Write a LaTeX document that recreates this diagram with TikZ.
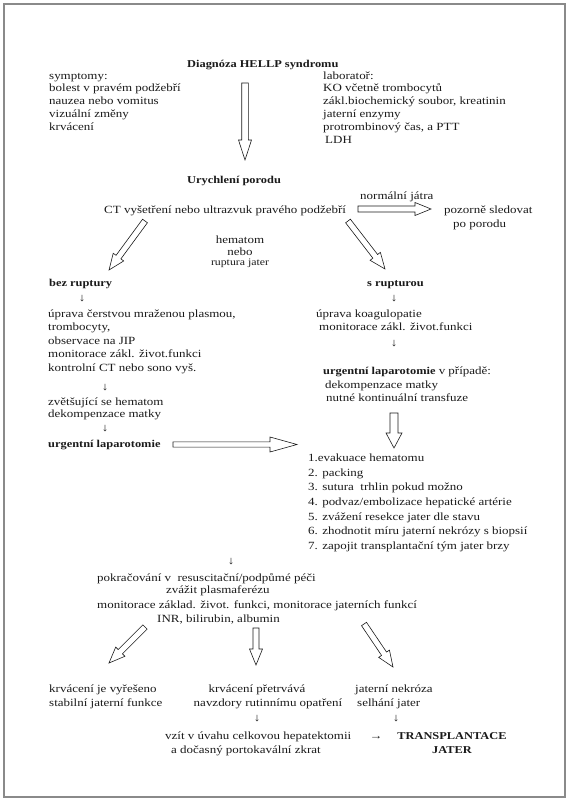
\documentclass[tikz,border=0pt]{standalone}
\usepackage{fontspec}
\setmainfont{Liberation Serif}[FakeStretch=1.18]
\usetikzlibrary{calc}
\definecolor{ink}{HTML}{1A1A1A}
\definecolor{framegray}{HTML}{8A8A8A}
\newcommand\blockarrow[5]{%
  \coordinate (hb) at ($(#2)!#5!(#1)$);
  \draw[blockarr] ($(#1)!#3!90:(#2)$) -- ($(hb)!#3!-90:(#1)$) -- ($(hb)!#4!-90:(#1)$) -- (#2)
     -- ($(hb)!#4!90:(#1)$) -- ($(hb)!#3!90:(#1)$) -- ($(#1)!#3!-90:(#2)$) -- cycle;
}
\begin{document}
\begin{tikzpicture}[x=1pt,y=-1pt,
  txt/.style={anchor=base west,inner sep=0pt,text=ink,font=\fontsize{11}{13}\selectfont},
  ctxt/.style={txt,anchor=base},
  btxt/.style={txt,font=\fontsize{10.5}{13}\selectfont\bfseries},
  cbtxt/.style={btxt,anchor=base},
  stxt/.style={ctxt,font=\fontsize{10}{12}\selectfont},
  blockarr/.style={draw=ink,line width=0.6pt,fill=white,line join=miter},
  frame/.style={draw=framegray,line width=1.2pt}]
\useasboundingbox (0,0) rectangle (569,800);
\draw[frame] (4,4) rectangle (565,797);

% top
\node[btxt] (diag) at (187,67) {Diagnóza HELLP syndromu};
\foreach \t [count=\i] in {symptomy:,bolest v pravém podžebří,nauzea nebo vomitus,vizuální změny,krvácení}
  \node[txt] (sym\i) at (49,66.2+12.8*\i) {\t};
\foreach \t [count=\i] in {laboratoř:,KO včetně trombocytů,{zákl.biochemický soubor, kreatinin},jaterní enzymy,{protrombinový čas, a PTT}}
  \node[txt] (lab\i) at (323,66.2+12.8*\i) {\t};
\node[txt] (lab6) at (325,143) {LDH};

\coordinate (a1t) at (245,83);
\coordinate (a1h) at (245,160);
\blockarrow{a1t}{a1h}{3.3pt}{6.5pt}{20pt}

\node[btxt] (uryc) at (187,183) {Urychlení porodu};
\node[txt] (norm) at (360,199) {normální játra};
\node[txt] (ct) at (104,213) {CT vyšetření nebo ultrazvuk pravého podžebří};
\node[txt] (poz1) at (444,213) {pozorně sledovat};
\node[txt] (poz2) at (453,227) {po porodu};
\coordinate (a2t) at (358,209);
\coordinate (a2h) at (431,209);
\blockarrow{a2t}{a2h}{3pt}{6.5pt}{16pt}

\node[ctxt] (hem1) at (240,243) {hematom};
\node[ctxt] (hem2) at (240,255) {nebo};
\node[stxt] (hem3) at (240,265) {ruptura jater};

\coordinate (a3t) at (145,221);
\coordinate (a3h) at (109,270);
\blockarrow{a3t}{a3h}{3pt}{6.5pt}{16pt}
\coordinate (a4t) at (348,221);
\coordinate (a4h) at (385,269);
\blockarrow{a4t}{a4h}{3pt}{6.5pt}{16pt}

\node[btxt] (bez) at (49,286) {bez ruptury};
\node[btxt] (srup) at (367,286) {s rupturou};
\node[ctxt] (d1) at (82,301) {↓};
\node[ctxt] (d2) at (394,301) {↓};

% left block
\foreach \t [count=\i] in {{úprava čerstvou mraženou plasmou,},{trombocyty,},observace na JIP,monitorace zákl. život.funkci,kontrolní CT nebo sono vyš.}
  \node[txt] (lb\i) at (48,303.4+13.6*\i) {\t};
\node[ctxt] (d3) at (105,390) {↓};
\node[txt] (lz1) at (48,405) {zvětšující se hematom};
\node[txt] (lz2) at (48,417) {dekompenzace matky};
\node[ctxt] (d4) at (105,431) {↓};
\node[btxt] (ulap) at (48,447) {urgentní laparotomie};

% right block
\node[txt] (rb1) at (316,317) {úprava koagulopatie};
\node[txt] (rb2) at (319,330) {monitorace zákl. život.funkci};
\node[ctxt] (d5) at (394,346) {↓};
\node[txt] (rb3) at (323,374) {{\fontsize{10.5}{13}\selectfont\bfseries urgentní laparotomie} v případě:};
\node[txt] (rb4) at (325,388) {dekompenzace matky};
\node[txt] (rb5) at (326,401) {nutné kontinuální transfuze};

\coordinate (a5t) at (394,413);
\coordinate (a5h) at (394,448);
\blockarrow{a5t}{a5h}{4pt}{8pt}{15pt}
\coordinate (a6t) at (173,444.5);
\coordinate (a6h) at (297,444.5);
\blockarrow{a6t}{a6h}{2.6pt}{7.5pt}{27pt}

% list
\foreach \t [count=\i] in {1.evakuace hematomu,2. packing,3. sutura\ \ trhlin pokud možno,4. podvaz/embolizace hepatické artérie,5. zvážení resekce jater dle stavu,6. zhodnotit míru jaterní nekrózy s biopsií,7. zapojit transplantační tým jater brzy}
  \node[txt] (li\i) at (308,446.8+14.67*\i) {\t};

\node[ctxt] (d6) at (231,564) {↓};
\node[txt] (p1) at (97,581) {pokračování v\ \ resuscitační/podpůmé péči};
\node[txt] (p2) at (166,593) {zvážit plasmaferézu};
\node[txt] (p3) at (97,608) {monitorace základ. život. funkci, monitorace jaterních funkcí};
\node[txt] (p4) at (157,622) {INR, bilirubin, albumin};

\coordinate (a7t) at (145,627);
\coordinate (a7h) at (109,663);
\blockarrow{a7t}{a7h}{3pt}{6.5pt}{16pt}
\coordinate (a8t) at (256,628);
\coordinate (a8h) at (256,665);
\blockarrow{a8t}{a8h}{3pt}{6.5pt}{16pt}
\coordinate (a9t) at (364,624);
\coordinate (a9h) at (393,667);
\blockarrow{a9t}{a9h}{3pt}{6.5pt}{16pt}

\node[txt] (k1) at (49,692) {krvácení je vyřešeno};
\node[txt] (k2) at (49,706) {stabilní jaterní funkce};
\node[ctxt] (m1) at (257,692) {krvácení přetrvává};
\node[ctxt] (m2) at (268,706) {navzdory rutinnímu opatření};
\node[txt] (j1) at (355,692) {jaterní nekróza};
\node[txt] (j2) at (357,706) {selhání jater};
\node[ctxt] (d7) at (257,721) {↓};
\node[ctxt] (d8) at (396,721) {↓};
\node[txt] (v1) at (165,739) {vzít v úvahu celkovou hepatektomii};
\node[txt] (v2) at (171,753) {a dočasný portokavální zkrat};
\node[ctxt] (ra) at (376,739) {→};
\node[cbtxt] (t1) at (452,739) {TRANSPLANTACE};
\node[cbtxt] (t2) at (452,753) {JATER};
\end{tikzpicture}
\end{document}
